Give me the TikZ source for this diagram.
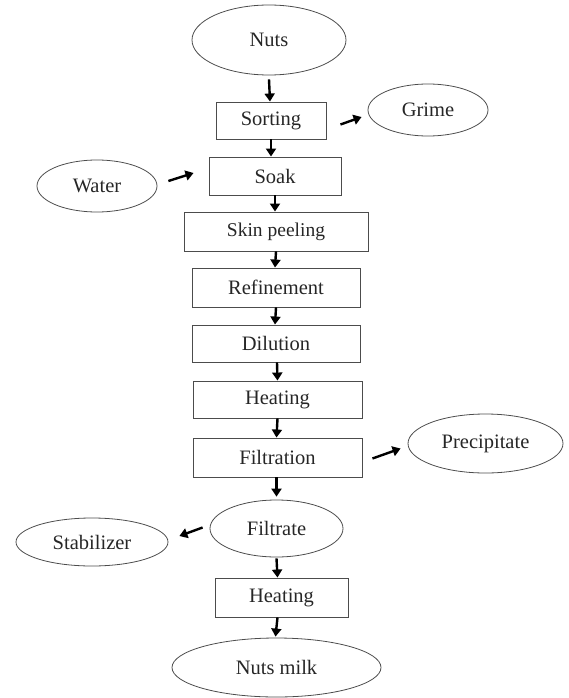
\documentclass[tikz,border=0pt]{standalone}
\usepackage{fontspec}
\setmainfont{Liberation Serif}
\usetikzlibrary{shapes.geometric,arrows.meta,calc}
\begin{document}
\begin{tikzpicture}[x=1pt,y=-1pt,
  every node/.style={font=\fontsize{20.5}{24}\selectfont, text=black!85, inner sep=0pt},
  proc/.style={draw=black!70, line width=0.9pt, rectangle},
  oval/.style={draw=black!70, line width=0.8pt, ellipse},
  arr/.style={line width=2.4pt, -{Triangle[width=10pt,length=8pt]}, draw=black}
]
\useasboundingbox (0,0) rectangle (569,698);
\node[oval, minimum width=154pt, minimum height=70pt] (nuts) at (269,40) {Nuts};
\node[proc, minimum width=110pt, minimum height=37pt] (sort) at (271,120.5) {Sorting};
\node[oval, minimum width=120pt, minimum height=52pt] (grime) at (428,110) {Grime};
\node[proc, minimum width=132pt, minimum height=38pt] (soak) at (275,176) {Soak};
\node[oval, minimum width=120pt, minimum height=52pt] (water) at (97,186) {Water};
\node[proc, minimum width=184pt, minimum height=39pt, font=\fontsize{19.5}{23}\selectfont] (skin) at (276,231.5) {Skin peeling};
\node[proc, minimum width=168pt, minimum height=39pt] (refi) at (276,287.5) {Refinement};
\node[proc, minimum width=168pt, minimum height=37pt] (dilu) at (276,343.5) {Dilution};
\node[proc, minimum width=169pt, minimum height=37pt] (heat) at (277.5,399.5) {Heating};
\node[proc, minimum width=169pt, minimum height=39pt] (filt) at (277.5,457.5) {Filtration};
\node[oval, minimum width=155pt, minimum height=59pt] (prec) at (485.5,443.5) {Precipitate};
\node[oval, minimum width=133pt, minimum height=57pt] (fate) at (276.5,528.5) {Filtrate};
\node[oval, minimum width=152pt, minimum height=48pt] (stab) at (92,542) {Stabilizer};
\node[proc, minimum width=133pt, minimum height=39pt] (heat2) at (281.5,597.5) {Heating};
\node[oval, minimum width=209pt, minimum height=59pt] (milk) at (276.5,667.5) {Nuts milk};

\draw[arr] ($(nuts.south)+(0,4)$) -- ($(sort.north)+(-1,0)$);
\draw[arr] (sort.south) -- ($(soak.north)+(-4,0)$);
\draw[arr] (soak.south) -- ($(skin.north)+(-1,0)$);
\draw[arr] (skin.south) -- ($(refi.north)+(-1,0)$);
\draw[arr] (refi.south) -- ($(dilu.north)+(-1,0)$);
\draw[arr] ($(dilu.south)+(1,0)$) -- (heat.north);
\draw[arr] (heat.south) -- ($(filt.north)+(-1,0)$);
\draw[arr] ($(filt.south)+(-1,0)$) -- ($(fate.north)+(0,-3)$);
\draw[arr] ($(fate.south)+(0,1)$) -- ($(heat2.north)+(-4,0)$);
\draw[arr] ($(heat2.south)+(-4,0)$) -- ($(milk.north)+(-1,-1)$);

\draw[arr] ($(sort.east)+(14,4)$) -- ($(grime.west)+(-6,7)$);
\draw[arr] ($(water.east)+(11,-5)$) -- ($(soak.west)+(-15,-3)$);
\draw[arr] ($(filt.east)+(10,1)$) -- ($(prec.west)+(-7,5)$);
\draw[arr] ($(fate.west)+(-7,-1)$) -- ($(stab.east)+(11,-6)$);
\end{tikzpicture}
\end{document}
